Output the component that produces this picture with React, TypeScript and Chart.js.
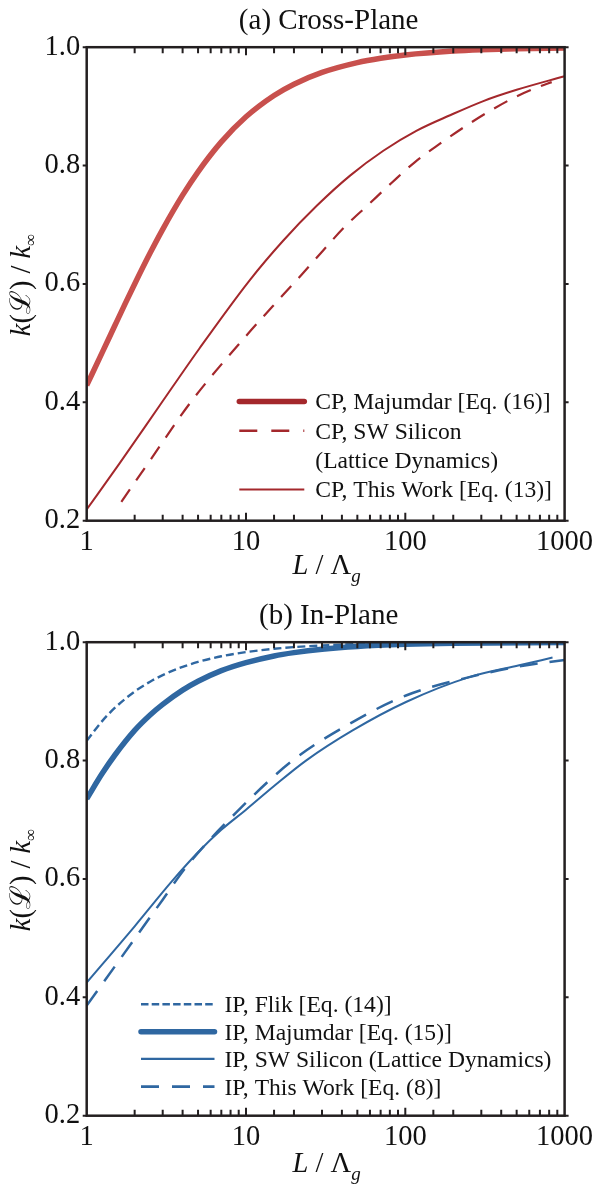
import React, { useEffect, useRef } from "react";
import { Chart, registerables } from "chart.js";

Chart.register(...registerables);

// ---------------- data ----------------
const X_TICK_LABELS = [1, 10, 100, 1000];
const Y_TICK_STEP = 0.2;

// (a) Cross-Plane
const CP_MAJ_L = [1, 1.25, 1.5, 1.75, 2, 2.5, 3, 4, 5, 7, 10, 15, 20, 30, 50, 70, 100, 200, 300, 500, 1000];
const CP_MAJ_K = [0.4286, 0.4839, 0.5294, 0.5676, 0.6, 0.6522, 0.6923, 0.75, 0.7895, 0.84, 0.8824, 0.9184, 0.9375, 0.9574, 0.974, 0.9813, 0.9868, 0.9934, 0.9956, 0.9973, 0.9987];

const CP_SW_L = [1.65, 2.5, 4.55, 10, 16.5, 22.4, 30.6, 41.8, 58.6, 82.2, 115, 165, 243, 348, 500, 701, 830];
const CP_SW_K = [0.232, 0.302, 0.402, 0.512, 0.577, 0.616, 0.657, 0.697, 0.734, 0.771, 0.806, 0.837, 0.868, 0.894, 0.917, 0.934, 0.941];

const CP_TW_L = [1, 1.6, 2.93, 5.1, 10.6, 17.1, 27.8, 45, 72.8, 118, 191, 309, 500, 1000];
const CP_TW_K = [0.219, 0.296, 0.398, 0.491, 0.607, 0.673, 0.732, 0.783, 0.825, 0.859, 0.885, 0.909, 0.928, 0.951];

// (b) In-Plane
const IP_FLIK_L = [1, 1.25, 1.5, 2, 2.5, 3, 4, 5, 7, 10, 15, 20, 30, 50, 100, 200, 1000];
const IP_FLIK_K = [0.8333, 0.8667, 0.8889, 0.9167, 0.9333, 0.9444, 0.9583, 0.9667, 0.9762, 0.9833, 0.9889, 0.9917, 0.9944, 0.9967, 0.9983, 0.9992, 0.9998];

const IP_MAJ_L = [1, 1.25, 1.5, 2, 2.5, 3, 4, 5, 7, 10, 15, 20, 30, 50, 100, 200, 1000];
const IP_MAJ_K = [0.7353, 0.778, 0.809, 0.851, 0.877, 0.895, 0.919, 0.934, 0.952, 0.9655, 0.9768, 0.9824, 0.9882, 0.9929, 0.9964, 0.9982, 0.9996];

const IP_SW_L = [1, 2, 3.4, 5, 7, 10, 15, 23.8, 46.7, 101, 252, 519, 840];
const IP_SW_K = [0.425, 0.52, 0.595, 0.645, 0.683, 0.717, 0.757, 0.8, 0.851, 0.899, 0.941, 0.961, 0.974];

const IP_TW_L = [1, 1.5, 2, 3, 4.2, 8.66, 19.6, 46.7, 101, 252, 519, 1000];
const IP_TW_K = [0.386, 0.452, 0.499, 0.565, 0.62, 0.712, 0.8, 0.865, 0.91, 0.941, 0.959, 0.97];

// ---------------- styles ----------------
const SERIF = '"Liberation Serif", "Times New Roman", Times, serif';
const INK = "#231f20";
const RED_LIGHT = "#c8504d";
const RED_DARK = "#a4282c";
const BLUE = "#2f67a1";

const W = 593;
const H = 595;
const AREA = { left: 86.7, right: 564.6, top: 47.2, bottom: 520.7 };

type Seg = { t: string; italic?: boolean; size?: number; dy?: number };

type LegendItem = { lines: string[]; color: string; width: number; dash: number[]; cap?: CanvasLineCap };

type Panel = {
  title: string;
  xTitleBaseline: number;
  legendRows: number[];
  legendLineX: [number, number];
  legendTextX: number;
  legend: LegendItem[];
  datasets: any[];
};

function pts(xs: number[], ys: number[]) {
  return xs.map((x, i) => ({ x, y: ys[i] }));
}

function line(label: string, xs: number[], ys: number[], color: string, width: number, dash: number[]) {
  return {
    label,
    data: pts(xs, ys),
    borderColor: color,
    backgroundColor: color,
    borderWidth: width,
    borderDash: dash,
    borderCapStyle: "butt",
    pointRadius: 0,
    pointHoverRadius: 0,
    fill: false,
    cubicInterpolationMode: "monotone",
  };
}

const PANEL_A: Panel = {
  title: "(a) Cross-Plane",
  xTitleBaseline: 574,
  legendRows: [401.5, 430.8, 460.2, 489.5],
  legendLineX: [239.3, 304.3],
  legendTextX: 315.3,
  legend: [
    { lines: ["CP, Majumdar [Eq. (16)]"], color: RED_DARK, width: 5.5, dash: [], cap: "round" },
    { lines: ["CP, SW Silicon", "(Lattice Dynamics)"], color: RED_DARK, width: 2.4, dash: [18, 14] },
    { lines: ["CP, This Work [Eq. (13)]"], color: RED_DARK, width: 2.2, dash: [] },
  ],
  datasets: [
    line("CP, Majumdar [Eq. (16)]", CP_MAJ_L, CP_MAJ_K, RED_LIGHT, 5.5, []),
    line("CP, SW Silicon (Lattice Dynamics)", CP_SW_L, CP_SW_K, RED_DARK, 2.2, [15, 11]),
    line("CP, This Work [Eq. (13)]", CP_TW_L, CP_TW_K, RED_DARK, 2.0, []),
  ],
};

const PANEL_B: Panel = {
  title: "(b) In-Plane",
  xTitleBaseline: 577,
  legendRows: [409.3, 436.7, 463.8, 491.7],
  legendLineX: [141, 214.5],
  legendTextX: 224.5,
  legend: [
    { lines: ["IP, Flik [Eq. (14)]"], color: BLUE, width: 2.6, dash: [7.5, 3.2] },
    { lines: ["IP, Majumdar [Eq. (15)]"], color: BLUE, width: 5.5, dash: [], cap: "round" },
    { lines: ["IP, SW Silicon (Lattice Dynamics)"], color: BLUE, width: 2.3, dash: [] },
    { lines: ["IP, This Work [Eq. (8)]"], color: BLUE, width: 2.7, dash: [18, 13] },
  ],
  datasets: [
    line("IP, Flik [Eq. (14)]", IP_FLIK_L, IP_FLIK_K, BLUE, 2.4, [8, 4]),
    line("IP, Majumdar [Eq. (15)]", IP_MAJ_L, IP_MAJ_K, BLUE, 5.5, []),
    line("IP, SW Silicon (Lattice Dynamics)", IP_SW_L, IP_SW_K, BLUE, 2.0, []),
    line("IP, This Work [Eq. (8)]", IP_TW_L, IP_TW_K, BLUE, 2.5, [18, 12]),
  ],
};

function fontOf(s: Seg, base: number) {
  return `${s.italic ? "italic " : ""}${s.size ?? base}px ${SERIF}`;
}

function drawRich(ctx: CanvasRenderingContext2D, segs: Seg[], cx: number, y: number, base: number) {
  const widths = segs.map((s) => {
    ctx.font = fontOf(s, base);
    return ctx.measureText(s.t).width;
  });
  const total = widths.reduce((a, b) => a + b, 0);
  let x = cx - total / 2;
  segs.forEach((s, i) => {
    ctx.font = fontOf(s, base);
    ctx.fillText(s.t, x, y + (s.dy ?? 0));
    x += widths[i];
  });
}

function decorPlugin(panel: Panel) {
  return {
    id: "decor",
    afterDraw(chart: any) {
      const ctx: CanvasRenderingContext2D = chart.ctx;
      const { left, right, top, bottom } = chart.chartArea;
      const xs = chart.scales.x;
      const ys = chart.scales.y;
      ctx.save();

      // frame
      ctx.strokeStyle = INK;
      ctx.lineWidth = 2.5;
      ctx.setLineDash([]);
      ctx.strokeRect(left, top, right - left, bottom - top);

      // x ticks: inward on top and bottom
      ctx.lineWidth = 2;
      ctx.beginPath();
      xs.ticks.forEach((t: any) => {
        const v = t.value;
        if (v <= 1 || v >= 1000) return;
        const p = xs.getPixelForValue(v);
        const major = Math.abs(Math.log10(v) - Math.round(Math.log10(v))) < 1e-9;
        const len = major ? 8 : 6;
        ctx.moveTo(p, bottom);
        ctx.lineTo(p, bottom - len);
        ctx.moveTo(p, top);
        ctx.lineTo(p, top + len);
      });
      // y ticks: outward on left and right
      ys.ticks.forEach((t: any) => {
        const p = ys.getPixelForValue(t.value);
        ctx.moveTo(left - 4, p);
        ctx.lineTo(left, p);
        ctx.moveTo(right, p);
        ctx.lineTo(right + 4, p);
      });
      ctx.stroke();

      // panel title
      ctx.fillStyle = "#111";
      ctx.textAlign = "left";
      ctx.textBaseline = "alphabetic";
      drawRich(ctx, [{ t: panel.title }], (left + right) / 2 + 3, 28.5, 29);

      // x-axis title
      drawRich(
        ctx,
        [
          { t: "L", italic: true },
          { t: " / Λ" },
          { t: "g", italic: true, size: 19, dy: 8 },
        ],
        (left + right) / 2 + 1,
        panel.xTitleBaseline,
        28.5
      );

      // y-axis title (rotated)
      ctx.save();
      ctx.translate(30, (top + bottom) / 2 + 1);
      ctx.rotate(-Math.PI / 2);
      drawRich(
        ctx,
        [
          { t: "k", italic: true },
          { t: "(" },
          { t: "ℒ" },
          { t: ") / " },
          { t: "k", italic: true },
          { t: "∞", size: 17, dy: 6 },
        ],
        0,
        0,
        28.5
      );
      ctx.restore();

      // legend
      let row = 0;
      const [lx0, lx1] = panel.legendLineX;
      panel.legend.forEach((item) => {
        const y = panel.legendRows[row];
        ctx.beginPath();
        ctx.strokeStyle = item.color;
        ctx.lineWidth = item.width;
        ctx.lineCap = item.cap ?? "butt";
        ctx.setLineDash(item.dash);
        ctx.moveTo(lx0, y);
        ctx.lineTo(lx1, y);
        ctx.stroke();
        ctx.setLineDash([]);
        ctx.lineCap = "butt";
        ctx.fillStyle = "#111";
        ctx.font = `23.6px ${SERIF}`;
        item.lines.forEach((txt) => {
          const yy = panel.legendRows[row];
          ctx.fillText(txt, panel.legendTextX, yy + 7.8);
          row += 1;
        });
      });

      ctx.restore();
    },
  };
}

function makeConfig(panel: Panel): any {
  return {
    type: "line",
    data: { datasets: panel.datasets },
    options: {
      animation: false,
      responsive: false,
      maintainAspectRatio: false,
      devicePixelRatio: 1,
      events: [],
      layout: { padding: { top: AREA.top, right: W - AREA.right, left: 0, bottom: 0 } },
      plugins: { legend: { display: false }, title: { display: false }, tooltip: { enabled: false } },
      scales: {
        x: {
          type: "logarithmic",
          min: 1,
          max: 1000,
          grid: { display: false, drawTicks: false },
          border: { display: false },
          ticks: {
            autoSkip: false,
            maxRotation: 0,
            minRotation: 0,
            padding: 5,
            color: "#111",
            font: { family: SERIF, size: 28.5 },
            callback: (v: any) => (X_TICK_LABELS.includes(Number(v)) ? String(v) : ""),
          },
          afterFit: (s: any) => {
            s.height = H - AREA.bottom;
            s.paddingLeft = 0;
            s.paddingRight = 0;
          },
        },
        y: {
          type: "linear",
          min: 0.2,
          max: 1.0,
          grid: { display: false, drawTicks: false },
          border: { display: false },
          ticks: {
            stepSize: Y_TICK_STEP,
            padding: 6.5,
            color: "#111",
            font: { family: SERIF, size: 28.5 },
            callback: (v: any) => Number(v).toFixed(1),
          },
          afterFit: (s: any) => {
            s.width = AREA.left;
            s.paddingTop = 0;
            s.paddingBottom = 0;
          },
        },
      },
    },
    plugins: [decorPlugin(panel)],
  };
}

function PanelChart({ panel, top }: { panel: Panel; top: number }) {
  const ref = useRef<HTMLCanvasElement | null>(null);
  useEffect(() => {
    if (!ref.current) return;
    const chart = new Chart(ref.current, makeConfig(panel));
    return () => chart.destroy();
  }, [panel]);
  return (
    <canvas
      ref={ref}
      width={W}
      height={H}
      style={{ position: "absolute", left: 0, top, width: W, height: H, display: "block" }}
    />
  );
}

export default function App() {
  return (
    <div style={{ position: "absolute", left: 0, top: 0, width: W, height: 2 * H, background: "#fff" }}>
      <PanelChart panel={PANEL_A} top={0} />
      <PanelChart panel={PANEL_B} top={H} />
    </div>
  );
}
